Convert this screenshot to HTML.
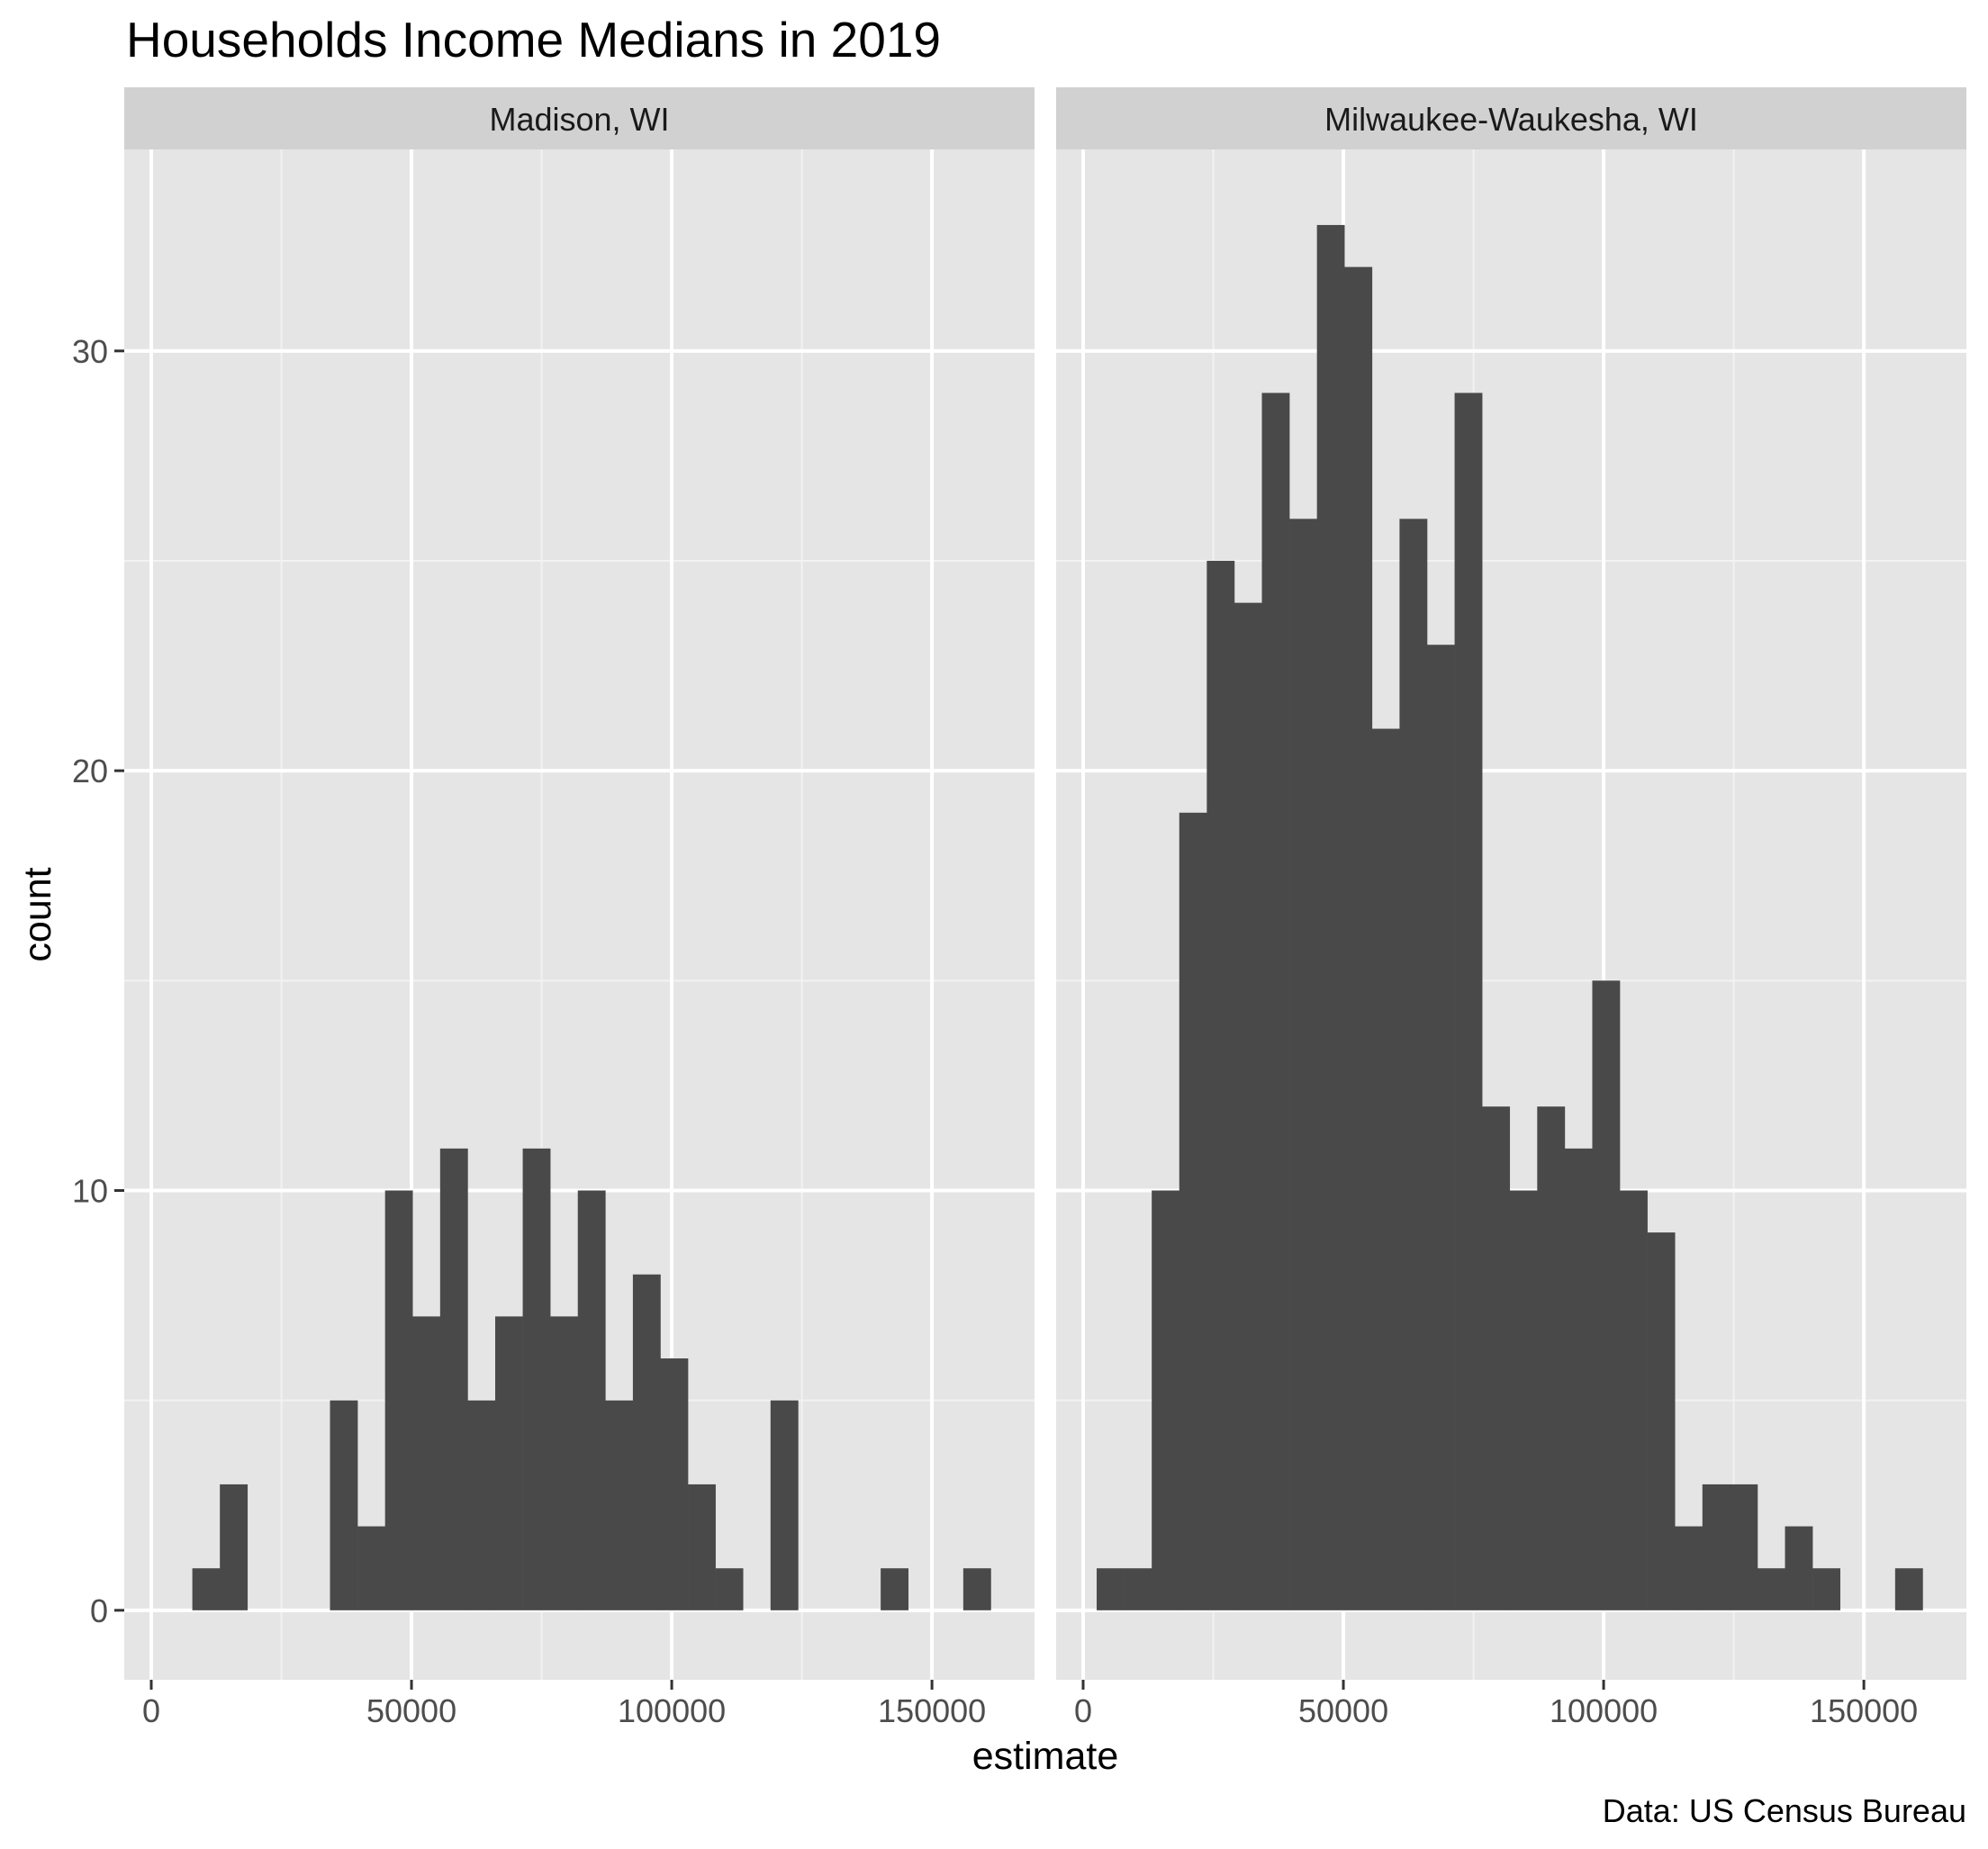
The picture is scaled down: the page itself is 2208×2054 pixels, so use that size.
<!DOCTYPE html>
<html><head><meta charset="utf-8"><style>
html,body{margin:0;padding:0;background:#fff;}
svg{display:block;font-family:"Liberation Sans",Arial,sans-serif;}
</style></head><body>
<svg id="chart" width="2208" height="2054" viewBox="0 0 2208 2054" xmlns="http://www.w3.org/2000/svg">
<rect width="2208" height="2054" fill="#ffffff"/>
<text x="140" y="63" font-size="55" fill="#000">Households Income Medians in 2019</text>
<text transform="translate(56,1016) rotate(-90)" text-anchor="middle" font-size="43" fill="#000">count</text>
<text x="1161" y="1965" text-anchor="middle" font-size="43" fill="#000">estimate</text>
<text x="2184" y="2024" text-anchor="end" font-size="36" fill="#000">Data: US Census Bureau</text>
<g id="panels"></g>
</svg>
<script>
const facetNames = ["Madison, WI", "Milwaukee-Waukesha, WI"];
const binStart = 2600;
const binWidth = 5290;
const madisonCounts = [0,1,3,0,0,0,5,2,10,7,11,5,7,11,7,10,5,8,6,3,1,0,5,0,0,0,1,0,0,1];
const milwaukeeCounts = [1,1,10,19,25,24,29,26,33,32,21,26,23,29,12,10,12,11,15,10,9,2,3,3,1,2,1,0,0,1];
const xTicks = [0,50000,100000,150000];
const xMinor = [25000,75000,125000];
const yTicks = [0,10,20,30];
const yMinor = [5,15,25];

const NS = "http://www.w3.org/2000/svg";
const panelLefts = [138, 1173];
const panelW = 1011, panelTop = 166, panelBottom = 1866, stripTop = 97;
const xMin = -5190, xMax = 169700, yMin = -1.655, yMax = 34.8;
function sx(v, p){ return panelLefts[p] + (v - xMin) / (xMax - xMin) * panelW; }
function sy(v){ return panelBottom - (v - yMin) / (yMax - yMin) * (panelBottom - panelTop); }
function mk(tag, attrs, parent){ const e = document.createElementNS(NS, tag); for (const k in attrs) e.setAttribute(k, attrs[k]); parent.appendChild(e); return e; }

const root = document.getElementById('panels');
const series = [madisonCounts, milwaukeeCounts];
for (let p = 0; p < 2; p++) {
  const L = panelLefts[p];
  const g = mk('g', {}, root);
  
  
  const strip = mk('rect', {x: L, y: stripTop, width: panelW, height: panelTop - stripTop, fill: '#d1d1d1'}, g);
  
  
  const st = mk('text', {x: L + panelW / 2, y: 145, 'text-anchor': 'middle', 'font-size': 36, fill: '#1a1a1a'}, g);
  st.textContent = facetNames[p];
  
  
  const bg = mk('rect', {x: L, y: panelTop, width: panelW, height: panelBottom - panelTop, fill: '#e5e5e5'}, g);
  
  
  yMinor.forEach(v => { const l = mk('line', {x1: L, x2: L + panelW, y1: sy(v), y2: sy(v), stroke: '#f2f2f2', 'stroke-width': 2}, g);   });
  xMinor.forEach(v => { const l = mk('line', {x1: sx(v, p), x2: sx(v, p), y1: panelTop, y2: panelBottom, stroke: '#f2f2f2', 'stroke-width': 2}, g);   });
  yTicks.forEach(v => { const l = mk('line', {x1: L, x2: L + panelW, y1: sy(v), y2: sy(v), stroke: '#ffffff', 'stroke-width': 4}, g);   });
  xTicks.forEach(v => { const l = mk('line', {x1: sx(v, p), x2: sx(v, p), y1: panelTop, y2: panelBottom, stroke: '#ffffff', 'stroke-width': 4}, g);   });
  series[p].forEach((c, i) => {
    if (c <= 0) return;
    const x0 = sx(binStart + i * binWidth, p), x1 = sx(binStart + (i + 1) * binWidth, p);
    const r = mk('rect', {x: x0, y: sy(c), width: x1 - x0 + 0.3, height: sy(0) - sy(c), fill: '#494949'}, g);
    
    
  });
  xTicks.forEach(v => {
    const t = mk('line', {x1: sx(v, p), x2: sx(v, p), y1: panelBottom, y2: panelBottom + 11, stroke: '#333', 'stroke-width': 3}, g);
    
    
    const tx = mk('text', {x: sx(v, p), y: 1913, 'text-anchor': 'middle', 'font-size': 36, fill: '#4d4d4d'}, g);
    tx.textContent = String(v);
    
    
  });
}
yTicks.forEach(v => {
  const t = mk('line', {x1: 127, x2: 138, y1: sy(v), y2: sy(v), stroke: '#333', 'stroke-width': 3}, root);
  
  
  const tx = mk('text', {x: 120, y: sy(v) + 13, 'text-anchor': 'end', 'font-size': 36, fill: '#4d4d4d'}, root);
  tx.textContent = String(v);
  
  
});
</script>
</body></html>
